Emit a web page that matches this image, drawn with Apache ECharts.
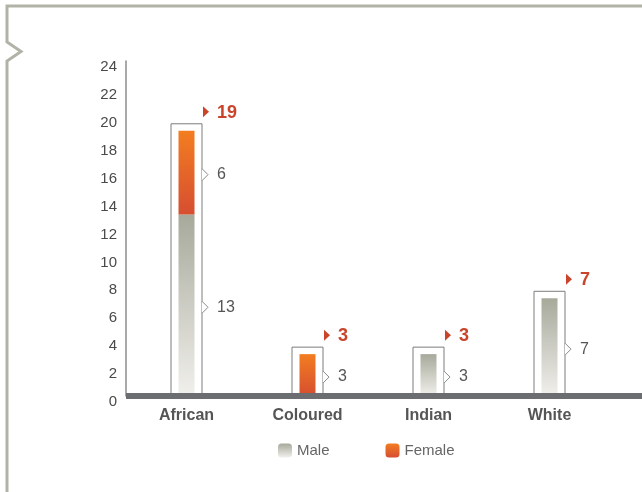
<!DOCTYPE html>
<html>
<head>
<meta charset="utf-8">
<script src="https://cdn.jsdelivr.net/npm/echarts@6/dist/echarts.min.js"></script>
<style>
  html, body { margin: 0; padding: 0; background: #fff; }
  #chart { width: 642px; height: 492px; }
</style>
</head>
<body>
<div id="chart"></div>
<script>
// Staff counts by population group, split by gender
const categories = ['African', 'Coloured', 'Indian', 'White'];
const maleValues = [13, 0, 3, 7];
const femaleValues = [6, 3, 0, 0];
const yMin = 0;
const yMax = 24;
const yStep = 2;

const totals = categories.map((_, i) => maleValues[i] + femaleValues[i]);

const FONT = '"Liberation Sans", Arial, Helvetica, sans-serif';
const RED = '#c9442b';

const maleColor = new echarts.graphic.LinearGradient(0, 0, 0, 1, [
  { offset: 0, color: '#a7a99b' },
  { offset: 1, color: '#f1f0ec' }
]);
const femaleColor = new echarts.graphic.LinearGradient(0, 0, 0, 1, [
  { offset: 0, color: '#f37d20' },
  { offset: 1, color: '#d64e31' }
]);

function text(str, x, y, font, fill) {
  return {
    type: 'text',
    style: {
      text: str, x: x, y: y, font: font, fill: fill,
      align: 'left', verticalAlign: 'middle',
      textAlign: 'left', textVerticalAlign: 'middle'
    }
  };
}

// Outline box around each stack, with total and segment callouts
function renderBox(params, api) {
  const i = api.value(0);
  const total = api.value(1);
  const male = api.value(2);
  const female = api.value(3);
  const base = api.coord([i, 0]);
  const top = api.coord([i, total]);
  const cx = base[0];
  const boxW = 31;
  const right = cx + boxW / 2;
  const children = [];

  children.push({
    type: 'rect',
    shape: { x: cx - boxW / 2, y: top[1] - 7, width: boxW, height: base[1] - top[1] + 7 },
    style: { fill: '#fff', stroke: '#7c7c7c', lineWidth: 1 }
  });

  // total callout
  const ty = top[1] - 19;
  children.push({
    type: 'polygon',
    shape: { points: [[right + 1, ty - 5.5], [right + 7, ty], [right + 1, ty + 5.5]] },
    style: { fill: RED }
  });
  children.push(text(String(total), right + 15, ty + 1, 'bold 18px ' + FONT, RED));

  // segment callouts
  const segs = [[0, male], [male, male + female]];
  segs.forEach(function (s) {
    const v = s[1] - s[0];
    if (v <= 0) return;
    const y0 = api.coord([i, s[0]])[1];
    const y1 = api.coord([i, s[1]])[1];
    const my = (y0 + y1) / 2 + 2;
    children.push({
      type: 'polyline',
      shape: { points: [[right, my - 6], [right + 6, my], [right, my + 6]] },
      style: { fill: '#fff', stroke: '#8a8a8a', lineWidth: 1 }
    });
    children.push(text(String(v), right + 15, my, '16px ' + FONT, '#555'));
  });

  return { type: 'group', children: children };
}

// Heavy baseline running to the right edge
function renderBaseline(params, api) {
  const base = api.coord([0, 0]);
  const cs = params.coordSys;
  return {
    type: 'rect',
    shape: { x: cs.x, y: base[1] - 3, width: 642 - cs.x, height: 6 },
    style: { fill: '#6c6d70' }
  };
}

const chart = echarts.init(document.getElementById('chart'), null, { renderer: 'canvas' });

chart.setOption({
  animation: false,
  backgroundColor: '#fff',
  grid: { left: 126, right: 32, top: 61, bottom: 96 },
  legend: {
    data: ['Male', 'Female'],
    left: 278,
    top: 443,
    padding: 0,
    itemWidth: 14,
    itemHeight: 14,
    itemGap: 56,
    textStyle: { fontFamily: FONT, fontSize: 15, color: '#666' }
  },
  xAxis: {
    type: 'category',
    data: categories,
    axisLine: { show: false },
    axisTick: { show: false },
    axisLabel: { fontFamily: FONT, fontSize: 16, fontWeight: 'bold', color: '#555', margin: 12 }
  },
  yAxis: {
    type: 'value',
    min: yMin,
    max: yMax,
    interval: yStep,
    axisLine: { show: true, lineStyle: { color: '#8c8c8c', width: 1.5 } },
    axisTick: { show: false },
    splitLine: { show: false },
    axisLabel: {
      fontFamily: FONT, fontSize: 15, color: '#4a4a4a', margin: 9,
      verticalAlign: 'top', lineHeight: 12
    }
  },
  series: [
    {
      type: 'custom',
      name: 'box',
      renderItem: renderBox,
      data: categories.map((c, i) => [i, totals[i], maleValues[i], femaleValues[i]]),
      encode: { x: 0, y: 1 },
      clip: false,
      silent: true,
      z: 1
    },
    {
      name: 'Male',
      type: 'bar',
      stack: 'total',
      barWidth: 16,
      data: maleValues,
      itemStyle: { color: maleColor },
      z: 2
    },
    {
      name: 'Female',
      type: 'bar',
      stack: 'total',
      barWidth: 16,
      data: femaleValues,
      itemStyle: { color: femaleColor },
      z: 2
    },
    {
      type: 'custom',
      name: 'baseline',
      renderItem: renderBaseline,
      data: [[0, 0]],
      encode: { x: 0, y: 1 },
      clip: false,
      silent: true,
      z: 3
    }
  ],
  graphic: [
    {
      type: 'polyline',
      silent: true,
      shape: { points: [[642, 6], [7, 6], [7, 42], [21, 51.5], [7, 61], [7, 492]] },
      style: { stroke: '#b2b3a7', lineWidth: 3, fill: null }
    }
  ]
});
</script>
</body>
</html>
